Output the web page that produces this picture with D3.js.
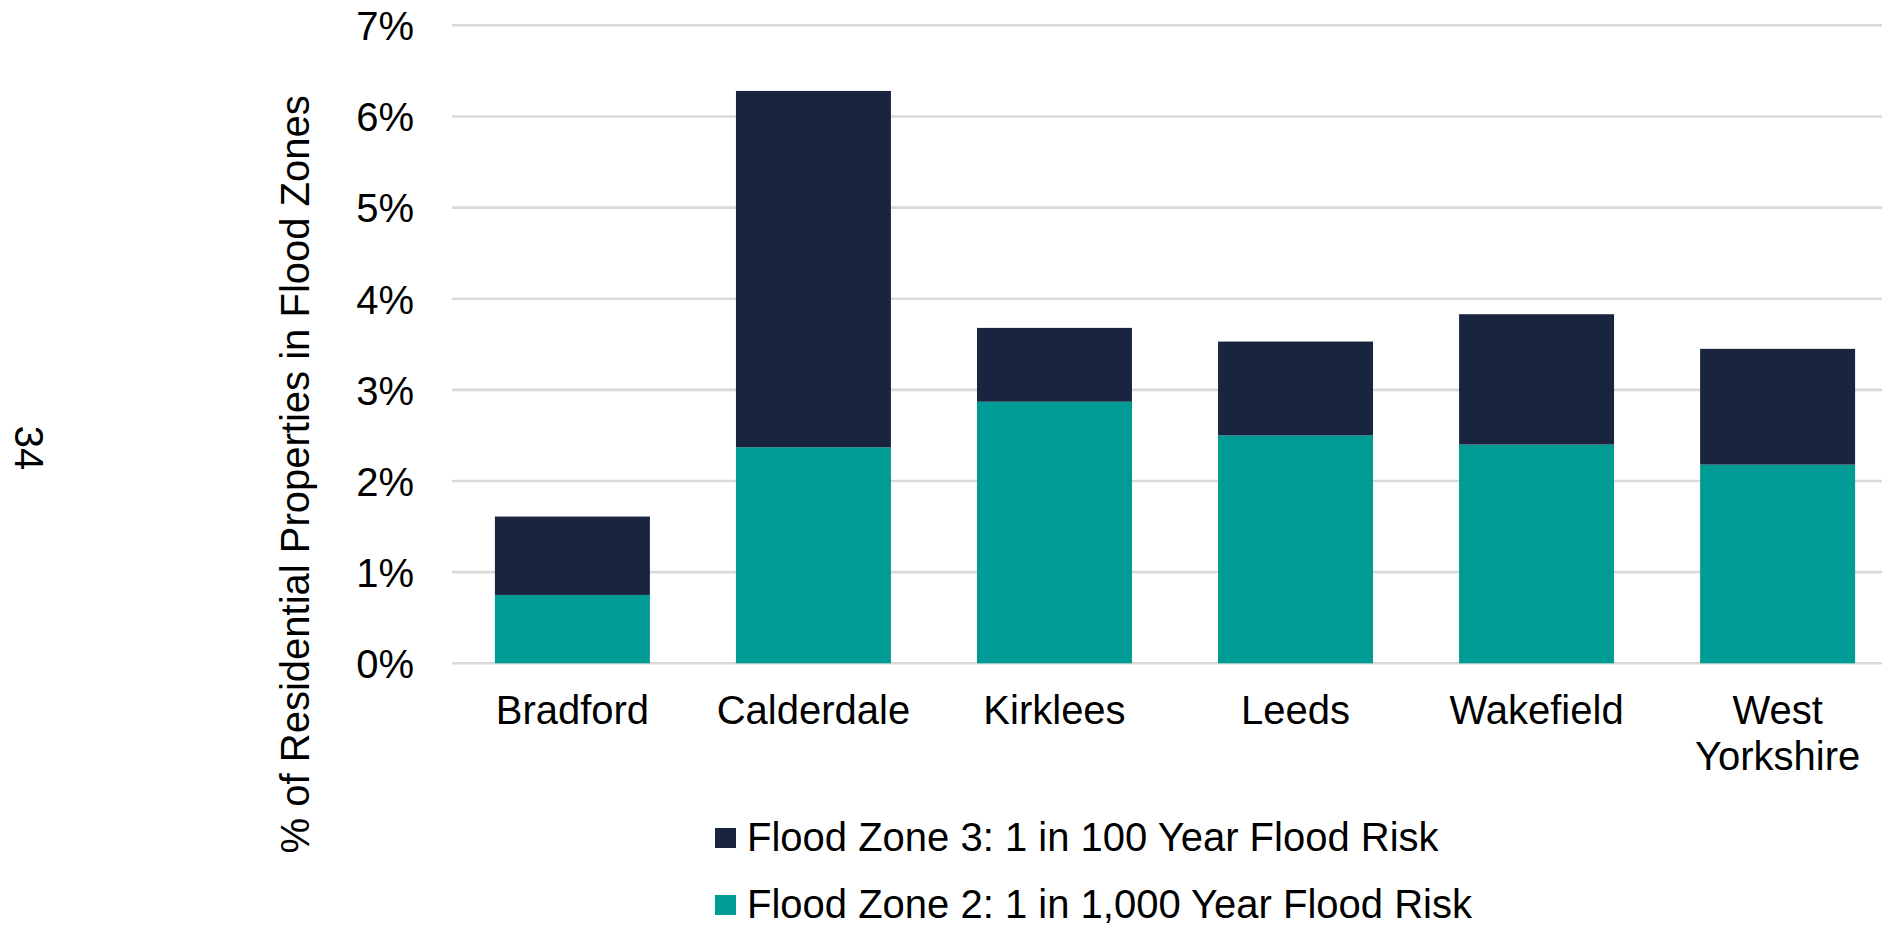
<!DOCTYPE html>
<html lang="en">
<head>
<meta charset="UTF-8">
  <title>Residential Properties in Flood Zones - D3 Stacked Bar Chart</title>
  <script src="https://d3js.org/d3.v7.min.js"></script>
  <style>
    body {
      margin: 0;
      background: #ffffff;
    }
    svg {
      display: block;
      font-family: "Liberation Sans", Arial, sans-serif;
    }
    .grid line {
      stroke: #d9d9d9;
      stroke-width: 2.6;
    }
    .axis text {
      font-size: 40px;
      fill: #000;
    }
    .legend text {
      font-size: 40px;
      fill: #000;
    }
  </style>
</head>
<body>

<div id="chart"></div>

<script>
  // Data (values in %)
  const categories = ["Bradford", "Calderdale", "Kirklees", "Leeds", "Wakefield", "West Yorkshire"];
  const zone2 = [0.75, 2.37, 2.87, 2.50, 2.40, 2.18];
  const zone3 = [0.86, 3.91, 0.81, 1.03, 1.43, 1.27];
  const seriesNames = ["Flood Zone 2: 1 in 1,000 Year Flood Risk", "Flood Zone 3: 1 in 100 Year Flood Risk"];
  const yTicks = [0, 1, 2, 3, 4, 5, 6, 7];
  const pageNumber = "34";

  const colors = { zone2: "#009b94", zone3: "#19253f" };

  // Dimensions
  const W = 1882, H = 926;
  const plot = { left: 452, right: 1898, top: 25.3, bottom: 663.3 };

  const svg = d3.select("#chart")
    .append("svg")
    .attr("width", W)
    .attr("height", H);

  // Table for stacking
  const table = categories.map((c, i) => ({ cat: c, zone2: zone2[i], zone3: zone3[i] }));
  const stacked = d3.stack().keys(["zone2", "zone3"])(table);

  // Scales
  const x = d3.scaleBand()
    .domain(categories)
    .range([plot.left, plot.right])
    .paddingInner(0.357)
    .paddingOuter(0.178);

  const y = d3.scaleLinear()
    .domain([0, 7])
    .range([plot.bottom, plot.top]);

  // Gridlines
  svg.append("g")
    .attr("class", "grid")
    .selectAll("line")
    .data(yTicks)
    .enter()
    .append("line")
    .attr("x1", plot.left)
    .attr("x2", W)
    .attr("y1", d => y(d))
    .attr("y2", d => y(d));

  // Bars
  svg.append("g")
    .selectAll("g")
    .data(stacked)
    .enter()
    .append("g")
    .attr("fill", d => colors[d.key])
    .selectAll("rect")
    .data(d => d)
    .enter()
    .append("rect")
    .attr("x", d => x(d.data.cat))
    .attr("y", d => y(d[1]))
    .attr("width", x.bandwidth())
    .attr("height", d => y(d[0]) - y(d[1]));

  // Y axis (labels only)
  const yAxis = svg.append("g")
    .attr("class", "axis")
    .attr("transform", `translate(${plot.left - 38},0)`)
    .call(d3.axisLeft(y).tickValues(yTicks).tickSize(0).tickPadding(0).tickFormat(d => d + "%"));
  yAxis.select(".domain").remove();
  yAxis.selectAll("text").attr("font-family", null).attr("font-size", null).attr("dy", "0.36em");

  // X axis (labels only), wrapping long names
  const xAxis = svg.append("g")
    .attr("class", "axis")
    .attr("transform", `translate(0,${plot.bottom})`)
    .call(d3.axisBottom(x).tickSize(0).tickPadding(32));
  xAxis.select(".domain").remove();
  xAxis.selectAll("text")
    .attr("font-family", null)
    .attr("font-size", null)
    .each(function (d) {
      const t = d3.select(this);
      const words = d.split(" ");
      if (words.length > 1 && this.getComputedTextLength() > x.step()) {
        t.text(null);
        words.forEach((w, i) => {
          t.append("tspan")
            .attr("x", 0)
            .attr("dy", i === 0 ? "0.71em" : "1.16em")
            .text(w);
        });
      }
    });

  // Y axis title
  svg.append("text")
    .attr("transform", `translate(309,${(plot.top + plot.bottom) / 2 + 130}) rotate(-90)`)
    .attr("text-anchor", "middle")
    .style("font-size", "40px")
    .text("% of Residential Properties in Flood Zones");

  // Page number
  svg.append("text")
    .attr("transform", "translate(15,448) rotate(90)")
    .attr("text-anchor", "middle")
    .style("font-size", "40px")
    .text(pageNumber);

  // Legend (zone 3 first)
  const legendItems = [
    { name: seriesNames[1], color: colors.zone3 },
    { name: seriesNames[0], color: colors.zone2 }
  ];
  const legend = svg.append("g")
    .attr("class", "legend")
    .attr("transform", "translate(715,851)");
  const li = legend.selectAll("g")
    .data(legendItems)
    .enter()
    .append("g")
    .attr("transform", (d, i) => `translate(0,${i * 67})`);
  li.append("rect")
    .attr("x", 0)
    .attr("y", -23)
    .attr("width", 21)
    .attr("height", 20)
    .attr("fill", d => d.color);
  li.append("text")
    .attr("x", 32)
    .attr("y", 0)
    .text(d => d.name);
</script>

</body>
</html>
